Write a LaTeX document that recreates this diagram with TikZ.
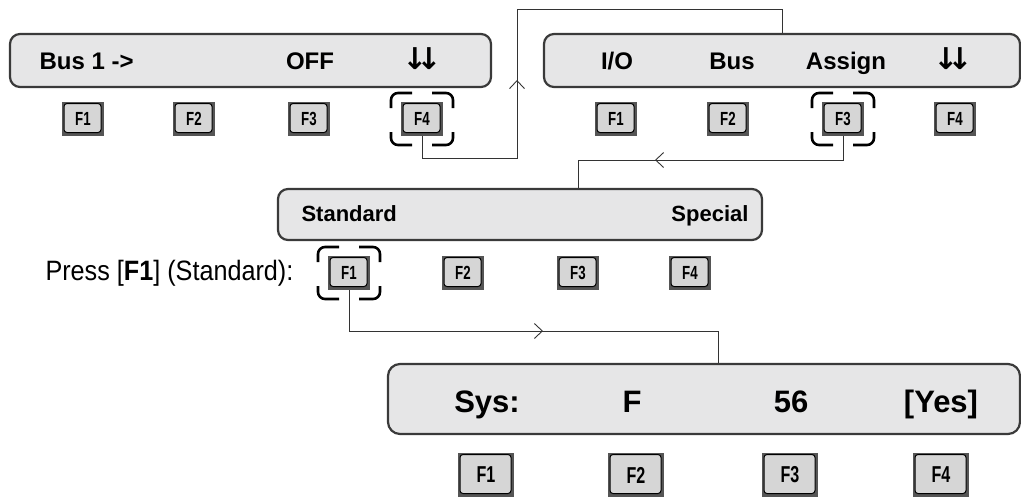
\documentclass[tikz,border=0pt]{standalone}
\usepackage{fontspec}
\setmainfont{Liberation Sans}
\newfontfamily\keyfont[FakeStretch=0.7]{Liberation Sans}
\newfontfamily\notefont[FakeStretch=0.9]{Liberation Sans}
\newfontfamily\arrowfont{DejaVu Sans}
\usepackage{tikz}
\usetikzlibrary{arrows.meta, positioning, decorations.markings}
\definecolor{LcdFace}{HTML}{E6E6E7}
\definecolor{LcdEdge}{HTML}{3A3A3A}
\definecolor{KeyFrame}{HTML}{555555}
\definecolor{KeyFace}{HTML}{D6D6D6}
\definecolor{FlowLine}{HTML}{333333}

\begin{document}
\begin{tikzpicture}[x=1pt, y=-1pt,
    lcd/.style={draw=LcdEdge, fill=LcdFace, line width=2.2pt, rounded corners=10pt, inner sep=0pt},
    lcdtext/.style={anchor=base, font=\bfseries\fontsize{24}{28}\selectfont},
    downs/.style={lcdtext, font=\arrowfont\bfseries\fontsize{30}{34}\selectfont},
    fkey/.style={fill=KeyFrame, inner sep=0pt, outer sep=0pt, minimum width=42pt, minimum height=34pt,
        font=\keyfont\bfseries\fontsize{19}{22}\selectfont,
        path picture={\draw[fill=KeyFace, line width=1pt, rounded corners=3pt]
            ([shift={(2pt,-1.5pt)}]path picture bounding box.north west) rectangle
            ([shift={(-3pt,3.5pt)}]path picture bounding box.south east);}},
    bigkey/.style={fkey, minimum width=56pt, minimum height=44pt, font=\keyfont\bfseries\fontsize{23}{27}\selectfont},
    selbox/.style={inner sep=0pt, outer sep=0pt, minimum width=62pt, minimum height=52pt},
    selline/.style={line width=2.6pt, rounded corners=7pt},
    flow/.style={draw=FlowLine, line width=0.9pt},
    midtip/.style={postaction={decorate}, decoration={markings,
        mark=at position #1 with {\arrow[line width=0.9pt]{Straight Barb[length=8pt, width=15pt]}}}}
]
    \useasboundingbox (0,0) rectangle (1021,499);

    % First display
    \node[lcd, minimum width=481pt, minimum height=53pt] (d1) at (250.5,60.5) {};
    \node[lcdtext, anchor=base west] (t11) at (36,69) {Bus 1 ->};
    \node[lcdtext] (t13) at (310,69) {OFF};
    \node[downs] (t14) at (422,69) {↓\kern-0.37em↓};
    \node[fkey] (k11) at (83,119) {F1};
    \node[fkey] (k12) at (194,119) {F2};
    \node[fkey] (k13) at (309,119) {F3};
    \node[fkey] (k14) at (422,119) {F4};

    % Second display
    \node[lcd, minimum width=476pt, minimum height=53pt] (d2) at (782,60.5) {};
    \node[lcdtext] (t21) at (617,69) {I/O};
    \node[lcdtext] (t22) at (732,69) {Bus};
    \node[lcdtext] (t23) at (846,69) {Assign};
    \node[downs] (t24) at (953,69) {↓\kern-0.37em↓};
    \node[fkey] (k21) at (616,119) {F1};
    \node[fkey] (k22) at (728,119) {F2};
    \node[fkey] (k23) at (843,119) {F3};
    \node[fkey] (k24) at (955,119) {F4};

    % Third display
    \node[lcd, minimum width=484pt, minimum height=51pt] (d3) at (520,214.5) {};
    \node[lcdtext, anchor=base west, font=\bfseries\fontsize{22}{26}\selectfont] (t31) at (298,221) {Standard};
    \node[lcdtext, anchor=base east, font=\bfseries\fontsize{22}{26}\selectfont] (t34) at (752,221) {Special};
    \node[fkey] (k31) at (349,273) {F1};
    \node[fkey] (k32) at (463,273) {F2};
    \node[fkey] (k33) at (578,273) {F3};
    \node[fkey] (k34) at (690,273) {F4};
    \node[anchor=base west, font=\notefont\fontsize{28}{32}\selectfont] (press) at (42,280) {Press [\textbf{F1}] (Standard):};

    % Fourth display
    \node[lcd, rounded corners=12pt, minimum width=632pt, minimum height=70pt] (d4) at (704,399) {};
    \node[lcdtext, font=\bfseries\fontsize{31}{36}\selectfont] (t41) at (487,412) {Sys:};
    \node[lcdtext, font=\bfseries\fontsize{31}{36}\selectfont] (t42) at (632,412) {F};
    \node[lcdtext, font=\bfseries\fontsize{31}{36}\selectfont] (t43) at (791,412) {56};
    \node[lcdtext, font=\bfseries\fontsize{31}{36}\selectfont] (t44) at (941,412) {[Yes]};
    \node[bigkey] (k41) at (486,475) {F1};
    \node[bigkey] (k42) at (636,475) {F2};
    \node[bigkey] (k43) at (790,475) {F3};
    \node[bigkey] (k44) at (941,475) {F4};

    % Selected keys
    \node[selbox] (s14) at (k14) {};
    \node[selbox] (s23) at (k23) {};
    \node[selbox] (s31) at (k31) {};
    \foreach \s in {s14, s23, s31} {
        \draw[selline] ([yshift=-15pt]\s.north west) |- ([xshift=21pt]\s.north west);
        \draw[selline] ([xshift=-21pt]\s.north east) -| ([yshift=-15pt]\s.north east);
        \draw[selline] ([yshift=13pt]\s.south west) |- ([xshift=21pt]\s.south west);
        \draw[selline] ([xshift=-21pt]\s.south east) -| ([yshift=13pt]\s.south east);
    }

    % Connectors
    \coordinate (top) at (517,9);
    \draw[flow, midtip=195pt] (k14.south) -- ++(0,22) -| (top) -| (d2.north);
    \draw[flow, midtip=212pt] (k23.south) -- ++(0,24) -| ([xshift=58pt]d3.north);
    \draw[flow, midtip=235pt] (k31.south) -- ++(0,41) -| ([xshift=14pt]d4.north);
\end{tikzpicture}
\end{document}
